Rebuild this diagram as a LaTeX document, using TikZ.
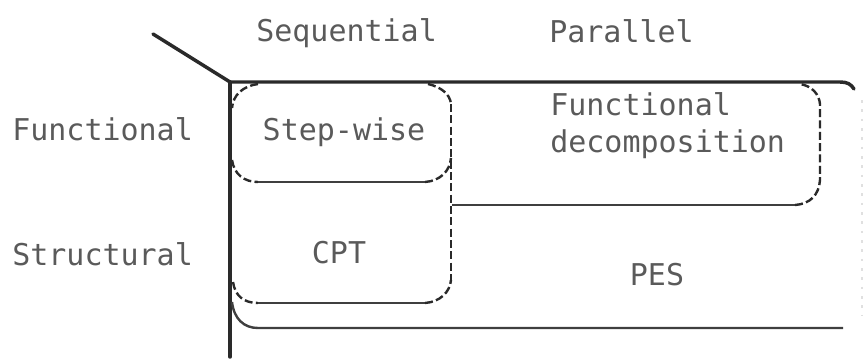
\documentclass[tikz,border=0pt]{standalone}
\usepackage{fontspec}
\newfontfamily\plotfont{DejaVu Sans Mono}
\definecolor{ink}{HTML}{2A2A2A}
\definecolor{pen}{HTML}{5A5A5A}
\begin{document}
\begin{tikzpicture}[x=0.75pt,y=-0.75pt,
  frame/.style={draw=ink, line width=2.6pt, line cap=round},
  edge/.style={draw=ink!90, line width=1.8pt},
  dashedge/.style={draw=ink, line width=1.8pt, dash pattern=on 6pt off 2.5pt},
  faint/.style={draw=black!12, line width=1pt, dash pattern=on 2pt off 5pt},
  lbl/.style={font=\plotfont\fontsize{22.5}{27}\selectfont, text=pen, inner sep=0pt}]
\useasboundingbox (0,0) rectangle (867,360);

% corner rule and the solid frame of the table
\coordinate (tip) at (153,34);
\coordinate (org) at (230,82);
\coordinate (foot) at (230,357);
\draw[frame] (tip) -- (org);
\draw[frame] (org) -- (840,82) .. controls (847,82) and (851,84) .. (854,89);
\draw[frame] (org) -- (foot);
\draw[faint] (862,100) -- (862,315);

% PES region, lower edge
\draw[edge] (232,302) .. controls (234,319) and (244,328) .. (258,328) -- (843,328);

% shared dashed divider between the sequential and parallel columns
\draw[dashedge] (451,104) -- (451,282);

% Step-wise box
\draw[dashedge] (258,84) .. controls (243,86) and (233,95) .. (232,108);
\draw[dashedge] (428,84) .. controls (441,87) and (450,94) .. (451,104);
\draw[dashedge] (232,160) .. controls (234,174) and (244,182) .. (258,182);
\draw[edge] (258,182) -- (425,182);
\draw[dashedge] (425,182) .. controls (440,181) and (450,171) .. (451,158);

% CPT box
\draw[dashedge] (233,282) .. controls (235,296) and (244,303) .. (258,303);
\draw[edge] (258,303) -- (425,303);
\draw[dashedge] (425,303) .. controls (440,302) and (450,292) .. (451,280);

% Functional decomposition box
\draw[edge] (452,205) -- (795,205);
\draw[dashedge] (795,205) .. controls (810,204) and (819,195) .. (820,180)
  -- (820,104) .. controls (819,94) and (812,86) .. (800,84);

% column and row headings
\node[lbl, anchor=base west] (seq) at (256,42) {Sequential};
\node[lbl, anchor=base west] (par) at (549,43) {Parallel};
\node[lbl, anchor=base west] (rfun) at (12,140) {Functional};
\node[lbl, anchor=base west] (rstr) at (12,265) {Structural};

% cell labels
\node[lbl, anchor=base] (stepwise) at (344,140) {Step-wise};
\node[lbl, anchor=base west] (fd1) at (550,115) {Functional};
\node[lbl, anchor=base west] (fd2) at (550,152) {decomposition};
\node[lbl, anchor=base] (cpt) at (339,263) {CPT};
\node[lbl, anchor=base] (pes) at (657,285) {PES};
\end{tikzpicture}
\end{document}
